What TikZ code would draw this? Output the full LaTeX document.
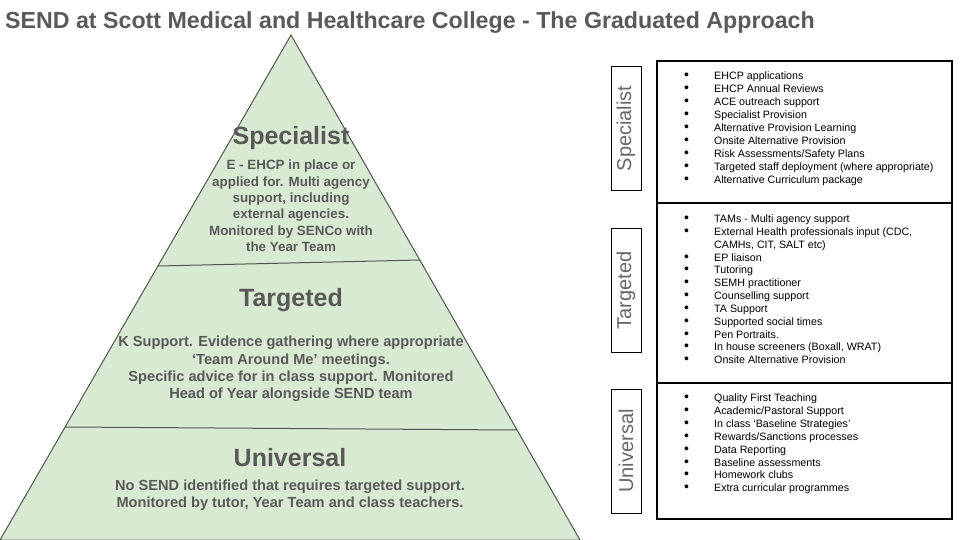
\documentclass[tikz,border=0pt]{standalone}
\usepackage{fontspec}
\setmainfont{Liberation Sans}
\definecolor{pyrgreen}{HTML}{D9EAD3}
\definecolor{pyredge}{HTML}{4F564F}
\definecolor{titlegray}{HTML}{595959}
\definecolor{tiergray}{HTML}{666666}
\tikzstyle{title} = [anchor=west, inner sep=0pt, text=titlegray, font=\fontsize{23.2}{26}\selectfont\bfseries]
\tikzstyle{heading} = [text=titlegray, inner sep=0pt, font=\fontsize{25}{28}\selectfont\bfseries]
\tikzstyle{body} = [text=titlegray, inner sep=0pt, align=center, font=\fontsize{14.6}{17.2}\selectfont\bfseries]
\tikzstyle{tier} = [draw=black, line width=0.8pt, rotate=90, minimum width=124pt, minimum height=30pt, inner sep=0pt, text=tiergray, font=\fontsize{20}{22}\selectfont]
\tikzstyle{panel} = [draw=black, line width=2.5pt, minimum width=295pt, inner sep=0pt]
\tikzstyle{item} = [anchor=base west, inner sep=0pt, font=\fontsize{10.7}{13}\selectfont]
\newcommand{\blt}{\makebox[30pt][l]{\smash{\fontsize{14}{13}\selectfont\textbullet}}}
\newcommand{\nblt}{\hspace*{30pt}}

\begin{document}
\begin{tikzpicture}[x=1pt, y=-1pt]
\useasboundingbox (0,0) rectangle (960,540);

\node (ttl) [title] at (5,23) {SEND at Scott Medical and Healthcare College - The Graduated Approach};

\coordinate (apex) at (291,35);
\coordinate (bl) at (0,540);
\coordinate (br) at (580,540);
\coordinate (l1) at (158,266);
\coordinate (r1) at (420,260);
\coordinate (l2) at (65,427);
\coordinate (r2) at (517,430);
\fill [pyrgreen] (apex) -- (br) -- (bl) -- cycle;
\draw [pyredge, line width=1pt] (apex) -- (br) -- (bl) -- cycle;
\draw [pyredge, line width=1pt] (l1) -- (r1);
\draw [pyredge, line width=1pt] (l2) -- (r2);

\node (sphead) [heading] at (291,138) {Specialist};
\node (spbody) [body, font=\fontsize{13.4}{16.4}\selectfont\bfseries] at (291,206) {E - EHCP in place or\\applied for. Multi agency\\support, including\\external agencies.\\Monitored by SENCo with\\the Year Team};
\node (tghead) [heading] at (291,300) {Targeted};
\node (tgbody) [body] at (291,369) {K Support. Evidence gathering where appropriate\\`Team Around Me' meetings.\\Specific advice for in class support. Monitored\\Head of Year alongside SEND team};
\node (unhead) [heading] at (290,458) {Universal};
\node (unbody) [body] at (290,495) {No SEND identified that requires targeted support.\\Monitored by tutor, Year Team and class teachers.};

\node (sptier) [tier] at (626,128.5) {Specialist};
\node (tgtier) [tier] at (626,290.5) {Targeted};
\node (untier) [tier] at (626,451) {Universal};

\node (sppanel) [panel, minimum height=142pt] at (804.5,132) {};
\node (tgpanel) [panel, minimum height=180pt] at (804.5,293) {};
\node (unpanel) [panel, minimum height=136pt] at (804.5,451) {};

\foreach \t [count=\i] in {EHCP applications, EHCP Annual Reviews, ACE outreach support,
    Specialist Provision, Alternative Provision Learning, Onsite Alternative Provision,
    Risk Assessments/Safety Plans, Targeted staff deployment (where appropriate),
    Alternative Curriculum package}
  \node (sp\i) [item] at (684,79.7+13*\i-13) {\blt\t};

\foreach \t [count=\i] in {{\blt TAMs - Multi agency support},
    {\blt External Health professionals input (CDC,}, {\nblt CAMHs, CIT, SALT etc)},
    {\blt EP liaison}, {\blt Tutoring}, {\blt SEMH practitioner}, {\blt Counselling support},
    {\blt TA Support}, {\blt Supported social times}, {\blt Pen Portraits.},
    {\blt In house screeners (Boxall, WRAT)}, {\blt Onsite Alternative Provision}}
  \node (tg\i) [item] at (684,222.7+12.82*\i-12.82) {\t};

\foreach \t [count=\i] in {Quality First Teaching, Academic/Pastoral Support,
    In class `Baseline Strategies', Rewards/Sanctions processes, Data Reporting,
    Baseline assessments, Homework clubs, Extra curricular programmes}
  \node (un\i) [item] at (684,401.7+12.86*\i-12.86) {\blt\t};
\end{tikzpicture}
\end{document}
